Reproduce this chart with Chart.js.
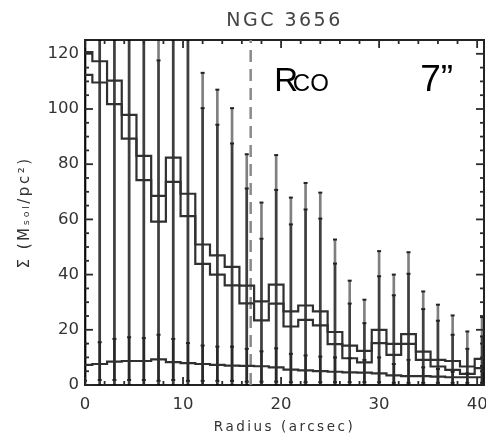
<!DOCTYPE html>
<html>
<head>
<meta charset="utf-8">
<title>NGC 3656</title>
<script src="https://cdn.jsdelivr.net/npm/chart.js@4/dist/chart.umd.min.js"></script>
<style>
  html, body { margin: 0; padding: 0; background: #fff; }
  #wrap { width: 486px; height: 438px; }
</style>
</head>
<body>
<div id="wrap"><canvas id="chart" width="486" height="438"></canvas></div>
<script>
// radial bins (arcsec)
const radius = [0, 1.5, 3, 4.5, 6, 7.5, 9, 10.5, 12, 13.5, 15, 16.5, 18, 19.5, 21, 22.5, 24, 25.5, 27, 28.5, 30, 31.5, 33, 34.5, 36, 37.5, 39, 40.5];

// surface density profiles (Msol/pc^2)
const sigmaHigh = [120.6, 117.3, 110.3, 97.9, 83.0, 68.5, 82.4, 69.3, 50.9, 47.0, 42.8, 36.0, 30.3, 36.4, 26.7, 28.8, 26.7, 19.2, 14.3, 12.4, 20.0, 14.9, 18.4, 12.1, 9.1, 8.7, 6.7, 9.5];
const sigmaLow = [112.4, 109.6, 101.8, 89.3, 74.2, 59.2, 73.6, 61.2, 43.9, 40.0, 36.1, 29.6, 23.4, 29.5, 21.2, 23.6, 21.6, 14.8, 9.7, 8.2, 15.2, 10.9, 14.9, 9.1, 6.7, 5.5, 4.0, 6.1];
const sigmaFloor = [7.3, 7.6, 8.5, 8.7, 8.7, 9.3, 8.3, 7.9, 7.6, 7.3, 7.0, 6.9, 6.8, 6.4, 5.6, 5.3, 5.0, 4.8, 4.6, 4.5, 4.2, 3.5, 3.2, 3.2, 3.0, 2.8, 2.8, 2.8];

// error bar ends (values above 125 run off the top)
const errTopHigh = [150, 160, 160, 160, 160, 160, 160, 160, 113.1, 107.0, 100.3, 83.6, 66.1, 83.3, 67.9, 73.2, 69.7, 52.7, 37.8, 30.9, 48.5, 40.0, 48.1, 33.9, 29.1, 25.2, 19.4, 24.6];
const errTopLow = [140, 150, 150, 150, 150, 117.6, 150, 150, 100.3, 94.3, 87.5, 71.2, 53.0, 70.7, 58.2, 63.6, 60.3, 44.0, 29.5, 22.4, 39.4, 32.5, 40.3, 27.5, 23.3, 18.2, 13.1, 17.6];
const floorErrHigh = [15.0, 15.5, 16.7, 17.3, 17.0, 18.2, 16.7, 15.2, 14.3, 13.9, 13.9, 13.1, 12.2, 13.3, 11.3, 10.7, 10.3, 10.0, 9.7, 9.1, 10.0, 7.6, 9.1, 6.4, 5.8, 4.8, 4.2, 6.9];
const floorErrLow = [1.5, 1.8, 1.8, 1.8, 1.8, 1.5, 1.8, 1.5, 1.5, 1.5, 1.5, 1.2, 1.2, 1.2, 1.0, 1.0, 1.0, 1.0, 1.0, 1.0, 1.0, 0.8, 0.8, 0.8, 0.8, 0.8, 0.8, 0.8];

const rCO = 16.9;
const xRange = [0, 40.7];
const yRange = [0, 125];

// tick values (labels on the majors), IDL draws them on all four sides pointing in
const xMajor = [0, 10, 20, 30, 40];
const xMinor = [2, 4, 6, 8, 12, 14, 16, 18, 22, 24, 26, 28, 32, 34, 36, 38];
const yMajor = [0, 20, 40, 60, 80, 100, 120];
const yMinor = [5, 10, 15, 25, 30, 35, 45, 50, 55, 65, 70, 75, 85, 90, 95, 105, 110, 115];

const INK = '#222';
const TEXT = '#333';
const FONT = '"DejaVu Sans", Arial, sans-serif';

// fixed box sizes so the plot frame lands where the original has it
const edge = size => s => {
  if (s.isHorizontal()) s.height = size; else s.width = size;
  s.paddingLeft = s.paddingRight = s.paddingTop = s.paddingBottom = 0;
};

function frameAxis(position) {
  const horiz = position === 'top' || position === 'bottom';
  const [min, max] = horiz ? xRange : yRange;
  return {
    type: 'linear', position, min, max, weight: 0, offset: false,
    afterFit: edge(0),
    ticks: { display: false },
    grid: { display: false, drawTicks: false },
    border: { display: true, color: INK, width: 2 }
  };
}

// IDL's vector font is wide, so titles get extra letter spacing; tick labels do not
const spacing = {
  id: 'spacing',
  beforeDraw(chart) { chart.ctx.letterSpacing = '2.5px'; },
  beforeDatasetsDraw(chart) { chart.ctx.letterSpacing = '0px'; }
};

const notes = {
  id: 'notes',
  afterDraw(chart) {
    const { ctx, scales: { x, y } } = chart;
    ctx.save();
    ctx.letterSpacing = '0px';
    ctx.fillStyle = '#000';
    ctx.textBaseline = 'alphabetic';
    ctx.textAlign = 'left';
    const base = y.getPixelForValue(106.5);
    ctx.font = '33px "Liberation Sans", Arial, sans-serif';
    ctx.fillText('R', x.getPixelForValue(19.3), base);
    ctx.font = '24px "Liberation Sans", Arial, sans-serif';
    ctx.fillText('CO', x.getPixelForValue(21.2), base);
    ctx.font = '37px "Liberation Sans", Arial, sans-serif';
    ctx.fillText('7\u201D', x.getPixelForValue(34.2), base);
    ctx.restore();
  }
};

const bar = (tops, bottoms, color) => ({
  type: 'bar',
  data: radius.map((r, i) => ({ x: r, y: [bottoms ? bottoms[i] : yRange[0], tops[i]] })),
  backgroundColor: color,
  barThickness: 2,
  grouped: false,
  xAxisID: 'x', yAxisID: 'y',
  order: 10
});

const step = values => ({
  type: 'line',
  data: radius.map((r, i) => ({ x: r, y: values[i] })),
  stepped: 'middle',
  borderColor: '#303030',
  borderWidth: 2.2,
  pointRadius: 0,
  fill: false,
  xAxisID: 'x', yAxisID: 'y',
  order: 2
});

// tick marks: a 'line' point centred on the frame, half of it clipped away
const tickSet = (points, len, rotation) => ({
  type: 'line',
  data: points,
  showLine: false,
  pointStyle: 'line',
  pointRadius: len,
  rotation,
  borderColor: '#2a2a2a',
  borderWidth: 1.8,
  clip: 0,
  xAxisID: 'x', yAxisID: 'y',
  order: 0
});
const onX = (vals, y) => vals.map(v => ({ x: v, y }));
const onY = (vals, x) => vals.map(v => ({ x, y: v }));

const hats = radius.flatMap((r, i) => [
  { x: r, y: errTopHigh[i] }, { x: r, y: errTopLow[i] },
  { x: r, y: floorErrHigh[i] }, { x: r, y: floorErrLow[i] }
]);

new Chart(document.getElementById('chart'), {
  type: 'bar',
  data: {
    datasets: [
      bar(errTopHigh, null, 'rgba(0,0,0,0.5)'),
      bar(errTopLow, null, 'rgba(0,0,0,0.5)'),
      bar(floorErrHigh, floorErrLow, 'rgba(0,0,0,0.35)'),
      {
        type: 'line',
        data: [{ x: rCO, y: yRange[0] }, { x: rCO, y: yRange[1] }],
        borderColor: '#8a8a8a',
        borderWidth: 2.5,
        borderDash: [12, 7],
        pointRadius: 0,
        xAxisID: 'x', yAxisID: 'y',
        order: 8
      },
      step(sigmaHigh),
      step(sigmaLow),
      step(sigmaFloor),
      {
        type: 'line',
        data: hats,
        showLine: false,
        pointStyle: 'line',
        pointRadius: 2,
        borderColor: INK,
        borderWidth: 2,
        xAxisID: 'x', yAxisID: 'y',
        order: 1
      },
      tickSet([...onX(xMajor, yRange[0]), ...onX(xMajor, yRange[1])], 8, 90),
      tickSet([...onX(xMinor, yRange[0]), ...onX(xMinor, yRange[1])], 4, 90),
      tickSet([...onY(yMajor, xRange[0]), ...onY(yMajor, xRange[1])], 8, 0),
      tickSet([...onY(yMinor, xRange[0]), ...onY(yMinor, xRange[1])], 4, 0)
    ]
  },
  options: {
    responsive: false,
    animation: false,
    events: [],
    layout: { autoPadding: false, padding: { left: 0, right: 2, top: 0, bottom: 0 } },
    plugins: {
      legend: { display: false },
      tooltip: { enabled: false },
      title: {
        display: true,
        text: 'NGC 3656',
        fullSize: false,
        color: '#444',
        font: { family: FONT, size: 19, weight: 'normal' },
        padding: { top: 10, bottom: 7.2 }
      }
    },
    scales: {
      x: {
        type: 'linear', position: 'bottom', min: xRange[0], max: xRange[1], weight: 1, offset: false,
        afterFit: edge(53),
        afterBuildTicks: s => { s.ticks = xMajor.map(value => ({ value })); },
        ticks: { padding: 10, z: 1, maxRotation: 0, autoSkip: false, color: TEXT, font: { family: FONT, size: 16.5 } },
        grid: { display: false, drawTicks: false, offset: false },
        border: { display: true, color: INK, width: 2 },
        title: { display: true, text: 'Radius (arcsec)', color: TEXT, font: { family: FONT, size: 13.5 }, padding: { top: 0, bottom: 2 } }
      },
      xTop: frameAxis('top'),
      y: {
        type: 'linear', position: 'left', min: yRange[0], max: yRange[1], weight: 1,
        afterFit: edge(85),
        afterBuildTicks: s => { s.ticks = yMajor.map(value => ({ value })); },
        ticks: { padding: 6, z: 1, autoSkip: false, color: TEXT, font: { family: FONT, size: 16.5 } },
        grid: { display: false, drawTicks: false },
        border: { display: true, color: INK, width: 2 },
        title: { display: true, text: 'Σ (Mₛₒₗ/pc²)', color: TEXT, font: { family: FONT, size: 15 }, padding: { top: 16, bottom: 0 } }
      },
      yRight: frameAxis('right')
    }
  },
  plugins: [spacing, notes]
});
</script>
</body>
</html>
